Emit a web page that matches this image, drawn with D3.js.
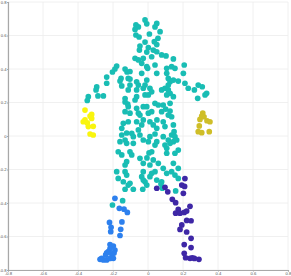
<!DOCTYPE html>
<html>
<head>
<meta charset="utf-8">
<script src="https://cdn.jsdelivr.net/npm/d3@7"></script>
<style>
  body { margin: 0; background: #fff; }
  svg { display: block; }
</style>
</head>
<body>
<svg width="291" height="276"></svg>
<script>
// tick values for both axes
const tickValues = [-0.8, -0.6, -0.4, -0.2, 0, 0.2, 0.4, 0.6, 0.8];

// body (teal)
const bodyPoints = [
  [-0.017,0.693],[-0.007,0.67],[-0.069,0.663],[-0.055,0.651],[-0.074,0.636],[0.05,0.672],[0.04,0.651],
  [-0.069,0.603],[-0.051,0.591],[0.008,0.609],[0.069,0.623],[0.057,0.583],[0.036,0.563],[-0.017,0.561],
  [-0.046,0.537],[-0.049,0.513],[0.002,0.528],[0.05,0.546],[0.03,0.513],[-0.007,0.501],[0.05,0.503],
  [0.078,0.484],[-0.074,0.464],[-0.027,0.464],[0.021,0.473],[0.103,0.478],[0.145,0.46],[-0.055,0.454],
  [-0.036,0.434],[0.04,0.424],[-0.002,0.404],
  [-0.179,0.418],[-0.189,0.4],[-0.203,0.382],[-0.131,0.4],[-0.12,0.382],[-0.103,0.385],[-0.154,0.344],
  [-0.16,0.328],[-0.113,0.344],[-0.103,0.34],[-0.15,0.299],[-0.236,0.352],[-0.236,0.315],[-0.293,0.293],
  [-0.297,0.275],[-0.341,0.235],[-0.347,0.212],[-0.286,0.239],[-0.255,0.239],[-0.131,0.224],[-0.131,0.203],
  [-0.116,0.191],[-0.113,0.275],[-0.103,0.304],[-0.055,0.304],[-0.065,0.275],[-0.027,0.285],[-0.007,0.334],
  [-0.017,0.304],[-0.007,0.414],[-0.036,0.374],[-0.065,0.235],[-0.074,0.215],[-0.017,0.245],[-0.113,0.175],
  [-0.065,0.165],[-0.027,0.175],[-0.131,0.145],[-0.103,0.136],[-0.055,0.136],[-0.065,0.324],
  [0.05,0.374],[0.107,0.404],[0.135,0.414],[0.107,0.374],[0.116,0.344],[0.126,0.324],[0.145,0.334],
  [0.173,0.328],[0.202,0.374],[0.207,0.424],[0.011,0.285],[0.021,0.264],[0.078,0.275],[0.097,0.285],
  [0.116,0.275],[0.126,0.255],[0.145,0.235],[0.107,0.245],[0.211,0.315],[0.23,0.285],[0.265,0.275],
  [0.287,0.304],[0.31,0.294],[0.335,0.255],[0.326,0.245],[0.284,0.225],[0.002,0.245],[-0.007,0.175],
  [0.04,0.195],[0.059,0.185],[0.087,0.185],[0.126,0.195],[0.101,0.161],[0.078,0.145],[0.126,0.149],
  [0.021,0.145],[0.116,0.304],[0.154,0.404],
  [-0.046,0.125],[0.002,0.136],[-0.141,0.076],[-0.113,0.085],[-0.065,0.085],[-0.027,0.096],[0.011,0.085],
  [0.03,0.066],[-0.15,0.046],[-0.036,0.066],[-0.15,0.006],[-0.122,0.018],[-0.093,0.016],[-0.055,0.036],
  [-0.046,0.006],[-0.027,-0.024],[0.011,-0.004],[-0.16,-0.034],[-0.122,-0.044],[-0.084,-0.044],[0.116,0.125],
  [0.135,0.115],[0.051,0.096],[0.087,0.085],[0.097,0.056],[0.145,0.066],[0.149,0.026],[0.05,0.046],
  [0.04,0.012],[0.087,-0.004],[0.116,-0.024],[0.135,0.006],[0.154,-0.004],[0.145,-0.034],[0.126,-0.044],
  [0.164,-0.024],[0.04,-0.054],[0.097,-0.054],[0.107,-0.103],[0.154,-0.103],[0.173,-0.084],[0.021,-0.094],
  [0.059,-0.163],[0.03,-0.143],[0.145,-0.163],[0.087,-0.193],[0.107,-0.223],[0.135,-0.213],[0.154,-0.233],
  [0.173,-0.253],[0.04,-0.213],[0.05,-0.263],[0.078,-0.273],
  [-0.17,-0.094],[-0.15,-0.113],[-0.103,-0.094],[-0.093,-0.113],[-0.046,-0.133],[-0.027,-0.163],[0.006,-0.101],
  [-0.179,-0.213],[-0.131,-0.213],[-0.122,-0.233],[-0.027,-0.213],[-0.036,-0.243],[0.011,-0.243],[-0.17,-0.253],
  [-0.141,-0.273],[-0.103,-0.282],[-0.122,-0.153],[-0.131,-0.173],[0.011,-0.173],[-0.006,-0.131],[-0.113,-0.293],
  [-0.084,-0.318],[-0.03,-0.318],[-0.017,-0.273],[-0.007,-0.293],[-0.145,-0.386],[-0.203,-0.412],[0.074,-0.287],
  [0.082,-0.312],[0.158,-0.328],[-0.131,-0.024],[-0.084,-0.004],[0.002,-0.034],[0.05,-0.034],[0.107,-0.073],
  [0.173,-0.193],[0.021,-0.223],[-0.027,-0.263],[-0.131,-0.318]
];

// left hand (yellow)
const leftHandPoints = [
  [-0.36,0.155],[-0.322,0.129],[-0.331,0.119],[-0.322,0.105],[-0.36,0.096],[-0.37,0.085],
  [-0.347,0.079],[-0.341,0.056],[-0.313,0.058],[-0.331,0.012],[-0.313,0.006]
];

// right hand (olive)
const rightHandPoints = [
  [0.313,0.137],[0.32,0.115],[0.297,0.099],[0.337,0.091],[0.354,0.085],[0.293,0.06],
  [0.287,0.026],[0.307,0.02],[0.35,0.026],[0.307,0.119]
];

// left leg (blue)
const leftLegPoints = [
  [-0.189,-0.372],[-0.164,-0.432],[-0.137,-0.437],[-0.118,-0.456],[-0.22,-0.516],[-0.211,-0.545],
  [-0.213,-0.571],[-0.149,-0.513],[-0.156,-0.557],[-0.16,-0.594],[-0.217,-0.648],[-0.198,-0.657],
  [-0.189,-0.681],[-0.217,-0.672],[-0.236,-0.697],[-0.207,-0.704],[-0.227,-0.69],[-0.242,-0.71],
  [-0.265,-0.73],[-0.274,-0.736],[-0.255,-0.74],[-0.236,-0.74],[-0.217,-0.731],[-0.198,-0.73],[-0.194,-0.699]
];

// right leg (indigo)
const rightLegPoints = [
  [0.05,-0.312],[0.097,-0.306],[0.113,-0.333],[0.193,-0.293],[0.209,-0.301],[0.202,-0.342],[0.211,-0.254],
  [0.139,-0.378],[0.158,-0.398],[0.24,-0.42],[0.173,-0.438],[0.158,-0.461],[0.183,-0.461],[0.207,-0.456],
  [0.221,-0.448],[0.221,-0.504],[0.246,-0.506],[0.193,-0.531],[0.183,-0.558],[0.221,-0.573],[0.246,-0.611],
  [0.207,-0.648],[0.246,-0.666],[0.207,-0.7],[0.215,-0.727],[0.24,-0.73],[0.265,-0.731],[0.291,-0.736],
  [0.253,-0.727]
];

const groups = [bodyPoints, leftHandPoints, rightHandPoints, leftLegPoints, rightLegPoints];
const groupColors = ["#19bdb4", "#f9f50e", "#cfbe28", "#2d80ee", "#3e27a6"];

const svg = d3.select("svg");
const width = +svg.attr("width");
const height = +svg.attr("height");
const margin = { top: 2, right: 3, bottom: 6, left: 8 };

const x = d3.scaleLinear().domain([-0.8, 0.8]).range([margin.left, width - margin.right]);
const y = d3.scaleLinear().domain([-0.8, 0.8]).range([height - margin.bottom, margin.top]);

const fmt = d => d === 0 ? "0" : d.toFixed(1);

// grid
const grid = svg.append("g").attr("stroke", "#ececec").attr("stroke-width", 0.8);
grid.selectAll(".gx").data(tickValues).enter().append("line")
  .attr("x1", d => x(d)).attr("x2", d => x(d))
  .attr("y1", y(0.8)).attr("y2", y(-0.8));
grid.selectAll(".gy").data(tickValues).enter().append("line")
  .attr("x1", x(-0.8)).attr("x2", x(0.8))
  .attr("y1", d => y(d)).attr("y2", d => y(d));

// points, one group per colour
groups.forEach((pts, i) => {
  svg.append("g").selectAll("circle")
    .data(pts)
    .enter().append("circle")
      .attr("cx", d => x(d[0]))
      .attr("cy", d => y(d[1]))
      .attr("r", 2.85)
      .attr("fill", groupColors[i]);
});

// axes
const xAxis = svg.append("g")
  .attr("transform", `translate(0,${y(-0.8)})`)
  .call(d3.axisBottom(x).tickValues(tickValues).tickFormat(fmt).tickSize(1.5).tickPadding(1));
const yAxis = svg.append("g")
  .attr("transform", `translate(${x(-0.8)},0)`)
  .call(d3.axisLeft(y).tickValues(tickValues).tickFormat(fmt).tickSize(1).tickPadding(0.5));

[xAxis, yAxis].forEach(a => {
  a.select(".domain").attr("stroke", "#a8a8a8").attr("stroke-width", 1.2);
  a.selectAll(".tick line").attr("stroke", "#a8a8a8");
  a.selectAll("text")
    .attr("fill", "#555")
    .style("font-family", "Liberation Sans, Arial, sans-serif")
    .style("font-size", "4.2px");
});
</script>
</body>
</html>
